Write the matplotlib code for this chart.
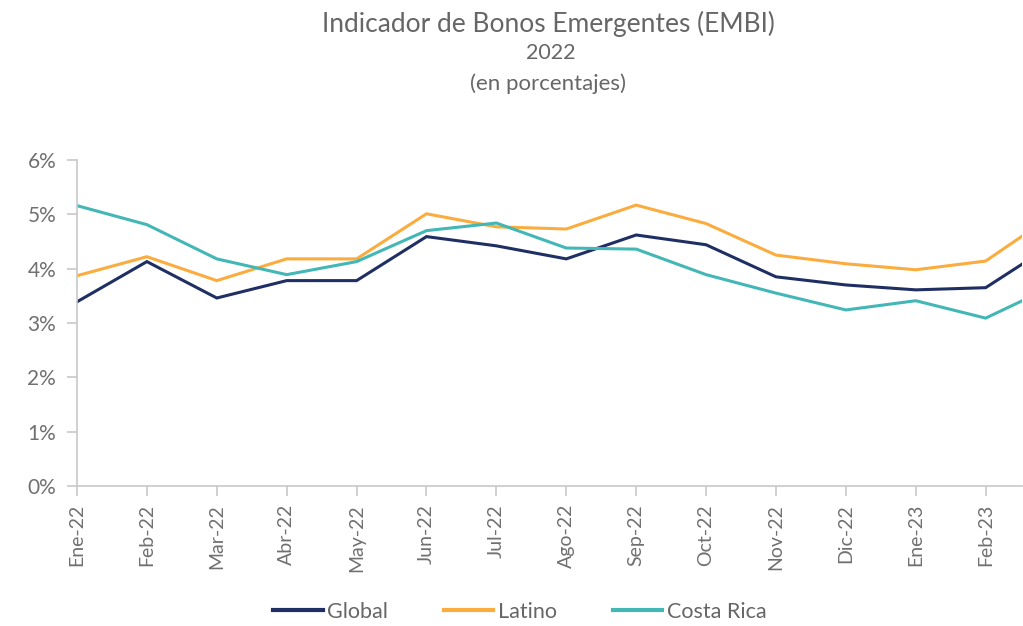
import matplotlib
matplotlib.use("Agg")
import matplotlib.pyplot as plt
from matplotlib.ticker import FuncFormatter

months = ["Ene-22", "Feb-22", "Mar-22", "Abr-22", "May-22", "Jun-22", "Jul-22",
          "Ago-22", "Sep-22", "Oct-22", "Nov-22", "Dic-22", "Ene-23", "Feb-23", "Mar-23"]
global_embi = [3.39, 4.13, 3.46, 3.78, 3.78, 4.59, 4.42, 4.18, 4.62, 4.44, 3.85, 3.70, 3.61, 3.65, 4.48]
latino_embi = [3.87, 4.22, 3.78, 4.18, 4.18, 5.01, 4.77, 4.73, 5.17, 4.83, 4.25, 4.09, 3.98, 4.14, 5.02]
costa_rica = [5.16, 4.81, 4.18, 3.89, 4.13, 4.70, 4.84, 4.38, 4.36, 3.89, 3.55, 3.24, 3.41, 3.09, 3.70]

plt.rcParams['font.family'] = ['Lato', 'DejaVu Sans']
gray = '#666666'
axis_gray = '#c8c8c8'

fig = plt.figure(figsize=(10.23, 6.26), dpi=100)
ax = fig.add_axes([77 / 1023, 1 - 486 / 626, (1022 - 77) / 1023, (486 - 160) / 626])

x = list(range(len(months)))
ax.plot(x, global_embi, color='#1f2f63', lw=2.2, label='Global', solid_joinstyle='miter')
ax.plot(x, latino_embi, color='#fbac3e', lw=2.2, label='Latino', solid_joinstyle='miter')
ax.plot(x, costa_rica, color='#42b7b5', lw=2.2, label='Costa Rica', solid_joinstyle='miter')

ax.set_xlim(0, 13.52)
ax.set_ylim(0, 6)
ax.set_yticks(range(0, 7))
ax.yaxis.set_major_formatter(FuncFormatter(lambda v, p: f"{v:.0f}%"))
ax.set_xticks(x[:14])
ax.set_xticklabels(months[:14], rotation=90)

for s in ['top', 'right']:
    ax.spines[s].set_visible(False)
for s in ['left', 'bottom']:
    ax.spines[s].set_color(axis_gray)
    ax.spines[s].set_linewidth(1.2)
ax.tick_params(axis='both', colors=axis_gray, length=7, width=1.2, direction='out')
ax.tick_params(axis='y', labelsize=15, labelcolor='#707070', pad=8)
ax.tick_params(axis='x', labelsize=14, labelcolor='#707070', pad=6)

fig.text(0.536, 0.962, "Indicador de Bonos Emergentes (EMBI)", ha='center', va='center',
         fontsize=19, color=gray)
fig.text(0.538, 0.915, "2022", ha='center', va='center', fontsize=15.5, color=gray)
fig.text(0.536, 0.866, "(en porcentajes)", ha='center', va='center', fontsize=16, color=gray)

leg = fig.legend(loc='center', bbox_to_anchor=(0.508, 0.023), ncol=3, frameon=False,
                 fontsize=15.5, handlelength=2.3, handletextpad=0.2, columnspacing=2.6)
for t in leg.get_texts():
    t.set_color(gray)
for h in leg.get_lines():
    h.set_linewidth(3)

fig.savefig('out.png', dpi=100)
